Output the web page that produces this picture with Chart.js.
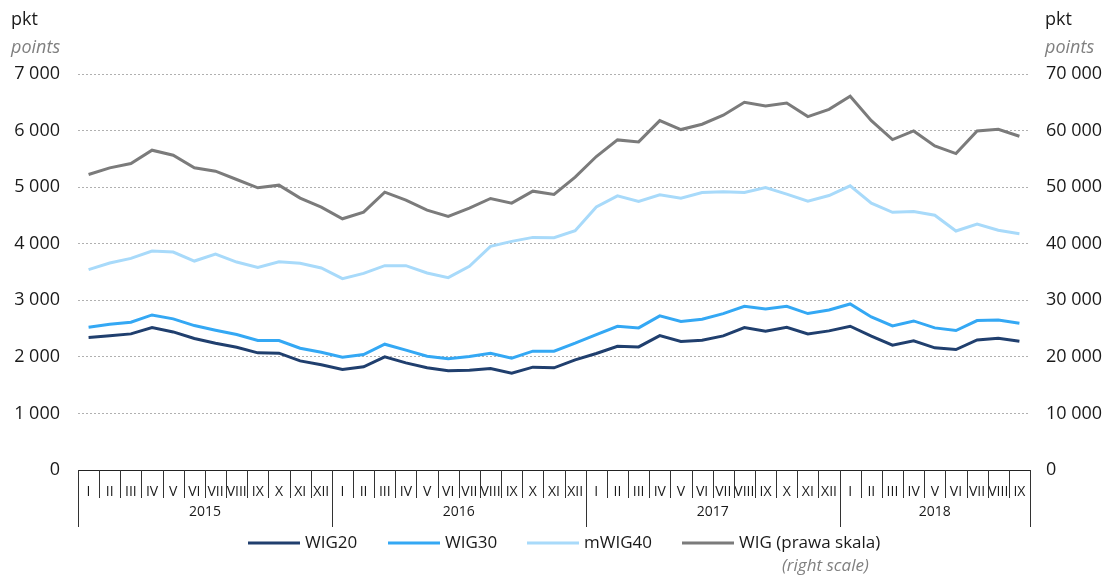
<!DOCTYPE html>
<html>
<head>
<meta charset="utf-8">
<script src="https://cdn.jsdelivr.net/npm/chart.js@4"></script>
<style>
  html, body { margin: 0; padding: 0; background: #fff; }
  #wrap { width: 1117px; height: 581px; }
</style>
</head>
<body>
<div id="wrap"><canvas id="chart" width="1117" height="581"></canvas></div>
<script>
// Miesiące i lata
const months = ['I','II','III','IV','V','VI','VII','VIII','IX','X','XI','XII'];
const years = ['2015', '2016', '2017', '2018'];
const monthsPerYear = [12, 12, 12, 9];

// Indeksy (lewa skala)
const wig20 = [2341, 2371, 2406, 2518, 2441, 2324, 2241, 2171, 2071, 2065, 1929, 1859,
               1776, 1824, 2000, 1894, 1806, 1753, 1765, 1794, 1712, 1818, 1806, 1947,
               2059, 2188, 2176, 2376, 2271, 2294, 2371, 2518, 2453, 2524, 2406, 2459,
               2541, 2365, 2206, 2282, 2159, 2129, 2300, 2329, 2276];
const wig30 = [2524, 2576, 2612, 2741, 2671, 2553, 2471, 2394, 2288, 2288, 2153, 2082,
               1994, 2041, 2224, 2118, 2012, 1965, 2006, 2065, 1976, 2100, 2100, 2241,
               2394, 2541, 2512, 2724, 2624, 2665, 2765, 2894, 2847, 2894, 2765, 2829,
               2935, 2706, 2547, 2635, 2512, 2465, 2641, 2653, 2594];
const mwig40 = [3541, 3659, 3741, 3871, 3853, 3694, 3818, 3676, 3582, 3682, 3653, 3571,
                3382, 3476, 3612, 3612, 3482, 3400, 3600, 3953, 4041, 4112, 4106, 4229,
                4651, 4846, 4746, 4864, 4805, 4905, 4917, 4905, 4994, 4876, 4751, 4852,
                5024, 4716, 4556, 4568, 4503, 4225, 4349, 4237, 4178];
// WIG (prawa skala)
const wig = [52240, 53410, 54180, 56530, 55650, 53410, 52820, 51350, 49880, 50350, 48060, 46470,
             44410, 45590, 49120, 47710, 45940, 44820, 46290, 48000, 47180, 49290, 48710, 51760,
             55410, 58350, 58000, 61760, 60180, 61120, 62710, 65000, 64350, 64880, 62470, 63760,
             66060, 61760, 58410, 59940, 57290, 55940, 59940, 60240, 59000];

const leftTicks = [0, 1000, 2000, 3000, 4000, 5000, 6000, 7000];
const rightTicks = [0, 10000, 20000, 30000, 40000, 50000, 60000, 70000];

const labels = [];
monthsPerYear.forEach(n => { for (let i = 0; i < n; i++) labels.push(months[i]); });

const colors = {
    wig20: '#203f6e',
    wig30: '#34a8f4',
    mwig40: '#a8dafa',
    wig: '#7b7b7b'
};
const FONT = "'Open Sans', 'Noto Sans', sans-serif";
const TEXT = '#1a1a1a';

function fmt(v) {
    return String(v).replace(/\B(?=(\d{3})+(?!\d))/g, ' ');
}

// Separatory miesięcy/lat, tytuły osi i legenda
const decorations = {
    id: 'decorations',
    afterDraw(chart) {
        const ctx = chart.ctx;
        const area = chart.chartArea;
        const x = chart.scales.x;
        const step = (area.right - area.left) / labels.length;
        const edge = i => i < labels.length
            ? x.getPixelForValue(i) - step / 2
            : x.getPixelForValue(labels.length - 1) + step / 2;
        ctx.save();

        // linia osi
        ctx.strokeStyle = '#222';
        ctx.lineWidth = 1;
        ctx.beginPath();
        ctx.moveTo(area.left, area.bottom + 0.5);
        ctx.lineTo(area.right, area.bottom + 0.5);
        ctx.stroke();

        // granice miesięcy i lat
        const yearStarts = [0];
        monthsPerYear.forEach((n, i) => yearStarts.push(yearStarts[i] + n));
        ctx.strokeStyle = '#333';
        for (let i = 0; i <= labels.length; i++) {
            const px = Math.round(edge(i)) + 0.5;
            const isYear = yearStarts.includes(i);
            ctx.beginPath();
            ctx.moveTo(px, area.bottom);
            ctx.lineTo(px, area.bottom + (isYear ? 57 : 28));
            ctx.stroke();
        }

        // etykiety lat
        ctx.fillStyle = TEXT;
        ctx.font = '14px ' + FONT;
        ctx.textAlign = 'center';
        ctx.textBaseline = 'middle';
        years.forEach((yr, i) => {
            const a = edge(yearStarts[i]);
            const b = edge(yearStarts[i + 1]);
            ctx.fillText(yr, (a + b) / 2, area.bottom + 42);
        });

        // tytuły osi
        ctx.textAlign = 'left';
        ctx.textBaseline = 'alphabetic';
        [11, 1045].forEach(tx => {
            ctx.fillStyle = TEXT;
            ctx.font = '18px ' + FONT;
            ctx.fillText('pkt', tx, 25);
            ctx.fillStyle = '#808080';
            ctx.font = 'italic 18px ' + FONT;
            ctx.fillText('points', tx, 53);
        });

        // legenda
        const items = [
            { text: 'WIG20', color: colors.wig20, x: 248 },
            { text: 'WIG30', color: colors.wig30, x: 388 },
            { text: 'mWIG40', color: colors.mwig40, x: 527 },
            { text: 'WIG (prawa skala)', color: colors.wig, x: 682 }
        ];
        const ly = 543;
        ctx.font = '17px ' + FONT;
        ctx.textBaseline = 'middle';
        items.forEach(it => {
            ctx.strokeStyle = it.color;
            ctx.lineWidth = 3;
            ctx.beginPath();
            ctx.moveTo(it.x, ly);
            ctx.lineTo(it.x + 52, ly);
            ctx.stroke();
            ctx.fillStyle = TEXT;
            ctx.fillText(it.text, it.x + 57, ly);
        });
        ctx.fillStyle = '#808080';
        ctx.font = 'italic 17px ' + FONT;
        ctx.fillText('(right scale)', 782, 566);

        ctx.restore();
    }
};

function series(label, data, color, axis) {
    return {
        label: label,
        data: data,
        yAxisID: axis,
        borderColor: color,
        backgroundColor: color,
        borderWidth: 3,
        pointRadius: 0,
        tension: 0,
        fill: false
    };
}

const ctx = document.getElementById('chart').getContext('2d');
window.indexChart = new Chart(ctx, {
    type: 'line',
    data: {
        labels: labels,
        datasets: [
            series('WIG (prawa skala)', wig, colors.wig, 'y1'),
            series('mWIG40', mwig40, colors.mwig40, 'y'),
            series('WIG30', wig30, colors.wig30, 'y'),
            series('WIG20', wig20, colors.wig20, 'y')
        ]
    },
    options: {
        responsive: false,
        animation: false,
        devicePixelRatio: 1,
        layout: { padding: { top: 74, left: 0, right: 0, bottom: 0 } },
        plugins: {
            legend: { display: false },
            tooltip: { enabled: false }
        },
        scales: {
            x: {
                type: 'category',
                offset: true,
                grid: { display: false },
                border: { display: false },
                ticks: {
                    autoSkip: false,
                    maxRotation: 0,
                    minRotation: 0,
                    padding: 6,
                    color: TEXT,
                    font: { family: FONT, size: 14 }
                },
                afterFit(scale) { scale.height = 111; }
            },
            y: {
                position: 'left',
                min: leftTicks[0],
                max: leftTicks[leftTicks.length - 1],
                afterBuildTicks(scale) { scale.ticks = leftTicks.map(v => ({ value: v })); },
                grid: { color: '#b0b0b0', lineWidth: 1, drawTicks: false },
                border: { display: false, dash: [2, 2] },
                ticks: {
                    padding: 18,
                    color: TEXT,
                    font: { family: FONT, size: 18 },
                    callback: v => fmt(v)
                },
                afterFit(scale) { scale.width = 78; }
            },
            y1: {
                position: 'right',
                min: rightTicks[0],
                max: rightTicks[rightTicks.length - 1],
                afterBuildTicks(scale) { scale.ticks = rightTicks.map(v => ({ value: v })); },
                grid: { drawOnChartArea: false, drawTicks: false },
                border: { display: false },
                ticks: {
                    padding: 16,
                    color: TEXT,
                    font: { family: FONT, size: 18 },
                    callback: v => fmt(v)
                },
                afterFit(scale) { scale.width = 87; }
            }
        }
    },
    plugins: [decorations]
});
</script>
</body>
</html>
